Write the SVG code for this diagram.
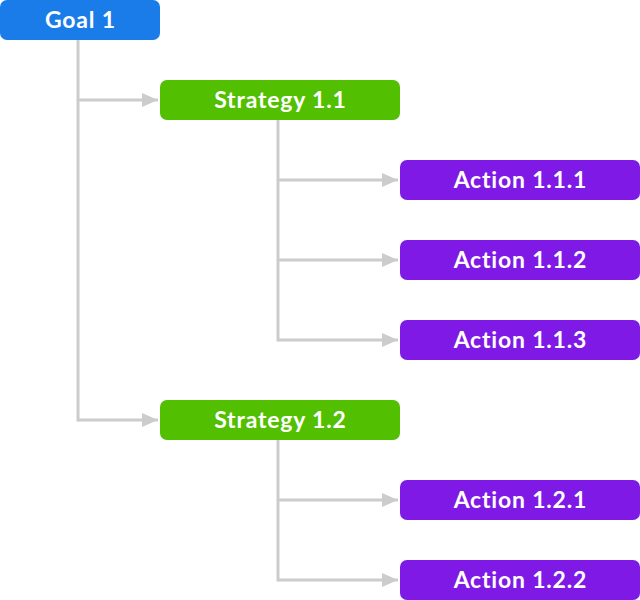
<svg xmlns="http://www.w3.org/2000/svg" width="640" height="600" viewBox="0 0 640 600">
<style>
.c{fill:none;stroke:#cccccc;stroke-width:3;}
.t{font-family:Lato,"Noto Sans","Liberation Sans",sans-serif;font-size:23px;font-weight:700;letter-spacing:0.8px;fill:#ffffff;text-anchor:middle;dominant-baseline:central;}
.g{fill:#1a7ce8;}
.s{fill:#52bf00;}
.a{fill:#7f19e6;}
</style>
<defs>
<marker id="ar" viewBox="0 0 16 16" refX="16" refY="8" markerWidth="16" markerHeight="16" markerUnits="userSpaceOnUse" orient="auto">
<path d="M0,1 L16,8 L0,15 Z" fill="#cccccc"/>
</marker>
</defs>
<g id="connectors">
<path class="c" d="M78,40 V421.5"/>
<path class="c" d="M78,100 H158" marker-end="url(#ar)"/>
<path class="c" d="M78,420 H158" marker-end="url(#ar)"/>
<path class="c" d="M278,120 V341.5"/>
<path class="c" d="M278,180 H398" marker-end="url(#ar)"/>
<path class="c" d="M278,260 H398" marker-end="url(#ar)"/>
<path class="c" d="M278,340 H398" marker-end="url(#ar)"/>
<path class="c" d="M278,440 V581.5"/>
<path class="c" d="M278,500 H398" marker-end="url(#ar)"/>
<path class="c" d="M278,580 H398" marker-end="url(#ar)"/>
</g>
<g id="goal1"><rect class="g" x="0" y="0" width="160" height="40" rx="7"/><text class="t" x="80.4" y="19">Goal 1</text></g>
<g id="strategy11"><rect class="s" x="160" y="80" width="240" height="40" rx="7"/><text class="t" x="280.4" y="99">Strategy 1.1</text></g>
<g id="action111"><rect class="a" x="400" y="160" width="240" height="40" rx="7"/><text class="t" x="520.4" y="179">Action 1.1.1</text></g>
<g id="action112"><rect class="a" x="400" y="240" width="240" height="40" rx="7"/><text class="t" x="520.4" y="259">Action 1.1.2</text></g>
<g id="action113"><rect class="a" x="400" y="320" width="240" height="40" rx="7"/><text class="t" x="520.4" y="339">Action 1.1.3</text></g>
<g id="strategy12"><rect class="s" x="160" y="400" width="240" height="40" rx="7"/><text class="t" x="280.4" y="419">Strategy 1.2</text></g>
<g id="action121"><rect class="a" x="400" y="480" width="240" height="40" rx="7"/><text class="t" x="520.4" y="499">Action 1.2.1</text></g>
<g id="action122"><rect class="a" x="400" y="560" width="240" height="40" rx="7"/><text class="t" x="520.4" y="579">Action 1.2.2</text></g>
</svg>
